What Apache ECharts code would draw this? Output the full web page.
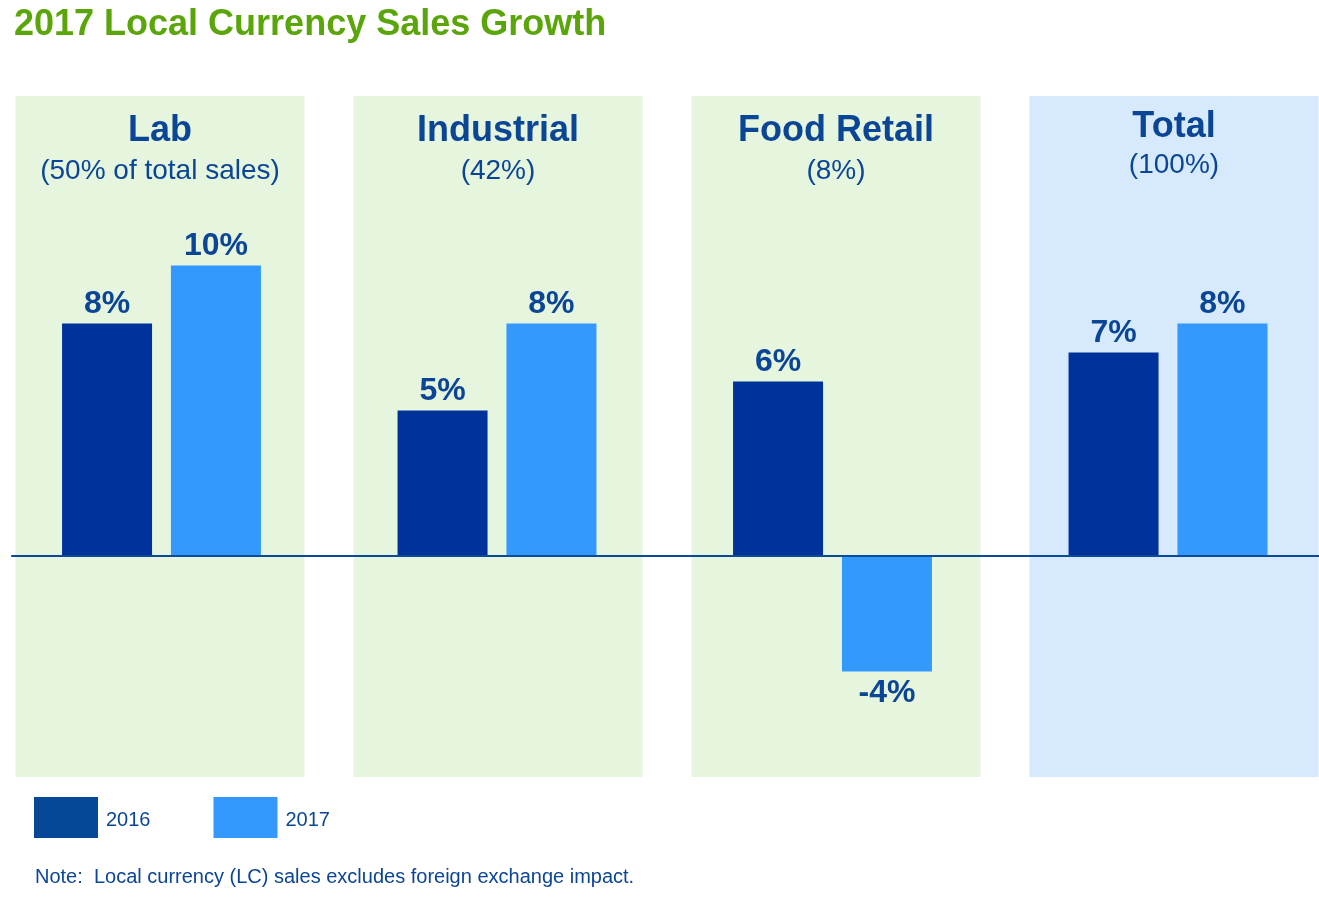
<!DOCTYPE html>
<html>
<head>
<meta charset="utf-8">
<script src="https://cdn.jsdelivr.net/npm/echarts@6/dist/echarts.min.js"></script>
<style>
html,body{margin:0;padding:0;background:#ffffff;}
#chart{width:1319px;height:897px;}
</style>
</head>
<body>
<div id="chart"></div>
<script>
const categories = ['Lab', 'Industrial', 'Food Retail', 'Total'];
const subtitles = ['(50% of total sales)', '(42%)', '(8%)', '(100%)'];
const seriesNames = ['2016', '2017'];
const values2016 = [8, 5, 6, 7];
const values2017 = [10, 8, -4, 8];

const FONT = 'Liberation Sans, Arial, Helvetica, sans-serif';
const TEXT = '#0b4596';
const C2016 = '#003399';
const C2017 = '#3399ff';
const GREEN = '#e5f5de';
const BLUE = '#d6e9fd';
const Y_MAX = 15.845;
const Y_MIN = -7.638;

const chart = echarts.init(document.getElementById('chart'), null, {renderer: 'canvas'});

const panelColors = categories.map((c, i) => i === categories.length - 1 ? BLUE : GREEN);

const yAxisBase = {
  type: 'value', min: Y_MIN, max: Y_MAX,
  show: false, splitLine: {show: false}
};

const labelRich = {
  n: {fontSize: 36, fontWeight: 'bold', color: TEXT, lineHeight: 40, fontFamily: FONT, align: 'center'},
  s: {fontSize: 28, color: TEXT, lineHeight: 40, fontFamily: FONT, align: 'center'},
  n2: {fontSize: 36, fontWeight: 'bold', color: TEXT, lineHeight: 32, fontFamily: FONT, align: 'center'},
  s2: {fontSize: 28, color: TEXT, lineHeight: 44, fontFamily: FONT, align: 'center'}
};

const option = {
  animation: false,
  backgroundColor: '#ffffff',
  textStyle: {fontFamily: FONT},
  title: [
    {
      text: '2017 Local Currency Sales Growth',
      left: 14, top: 7, padding: 0,
      textStyle: {color: '#5aa50a', fontSize: 36, fontWeight: 'bold', fontFamily: FONT}
    },
    {
      text: 'Note:  Local currency (LC) sales excludes foreign exchange impact.',
      left: 35, top: 867, padding: 0,
      textStyle: {color: TEXT, fontSize: 20, fontWeight: 'normal', fontFamily: FONT}
    }
  ],
  legend: {
    data: [
      {name: '2016', itemStyle: {color: '#054897'}},
      {name: '2017', itemStyle: {color: C2017}}
    ],
    left: 34, top: 797, padding: 0,
    itemWidth: 64, itemHeight: 41, itemGap: 63,
    icon: 'rect',
    formatter: '{a|{name}}',
    textStyle: {
      color: TEXT, fontSize: 20, fontFamily: FONT,
      rich: {a: {color: TEXT, fontSize: 20, fontFamily: FONT, padding: [6, 0, 0, 3]}}
    }
  },
  grid: [
    {left: -6.25, width: 1342, top: 96, height: 681, outerBoundsMode: 'none', containLabel: false},
    {left: -9, width: 1352, top: 96, height: 681, outerBoundsMode: 'none', containLabel: false},
    {left: 12, right: 0, top: 96, height: 681, outerBoundsMode: 'none', containLabel: false}
  ],
  xAxis: [
    {
      type: 'category', gridIndex: 0, data: categories,
      axisLine: {show: false}, axisTick: {show: false}, axisLabel: {show: false}
    },
    {
      type: 'category', gridIndex: 1, data: categories, position: 'top',
      axisLine: {show: false}, axisTick: {show: false},
      axisLabel: {
        show: true, inside: true, margin: 15, interval: 0,
        verticalAlign: 'top',
        formatter: function (v, i) {
          const last = i === categories.length - 1;
          return '{' + (last ? 'n2' : 'n') + '|' + v + '}\n{' + (last ? 's2' : 's') + '|' + subtitles[i] + '}';
        },
        rich: labelRich
      }
    },
    {
      type: 'value', gridIndex: 2, min: 0, max: 1, z: 10,
      axisLine: {show: true, onZero: true, lineStyle: {color: '#0a4a9a', width: 2}},
      axisTick: {show: false}, axisLabel: {show: false}, splitLine: {show: false}
    }
  ],
  yAxis: [
    Object.assign({gridIndex: 0}, yAxisBase),
    Object.assign({gridIndex: 1}, yAxisBase),
    Object.assign({gridIndex: 2}, yAxisBase)
  ],
  series: [
    {
      name: 'panelUp', type: 'bar', xAxisIndex: 1, yAxisIndex: 1, stack: 'panel',
      barWidth: 289, silent: true, z: 0,
      data: categories.map((c, i) => ({value: Y_MAX, itemStyle: {color: panelColors[i]}}))
    },
    {
      name: 'panelDown', type: 'bar', xAxisIndex: 1, yAxisIndex: 1, stack: 'panel',
      barWidth: 289, silent: true, z: 0,
      data: categories.map((c, i) => ({value: Y_MIN, itemStyle: {color: panelColors[i]}}))
    },
    {
      name: seriesNames[0], type: 'bar', xAxisIndex: 0, yAxisIndex: 0,
      barWidth: 90, barGap: '21%', z: 3,
      itemStyle: {color: C2016},
      label: {
        show: true, position: 'top', distance: 3,
        formatter: '{c}%', color: TEXT, fontSize: 32, fontWeight: 'bold', fontFamily: FONT
      },
      data: values2016
    },
    {
      name: seriesNames[1], type: 'bar', xAxisIndex: 0, yAxisIndex: 0,
      barWidth: 90, barGap: '21%', z: 3,
      itemStyle: {color: C2017},
      label: {
        show: true, position: 'top', distance: 3,
        formatter: '{c}%', color: TEXT, fontSize: 32, fontWeight: 'bold', fontFamily: FONT
      },
      data: values2017.map(v => v < 0 ? {value: v, label: {position: 'bottom', distance: 6}} : v)
    }
  ]
};

chart.setOption(option);
</script>
</body>
</html>
